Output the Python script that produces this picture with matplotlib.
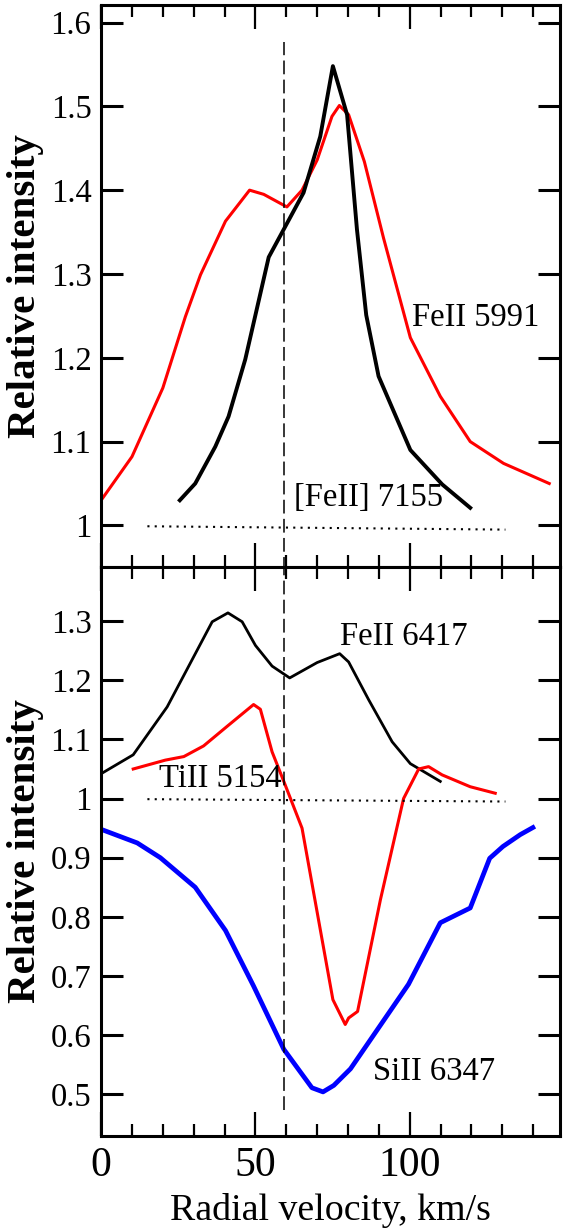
import matplotlib
matplotlib.use("Agg")
import matplotlib.pyplot as plt
from matplotlib.ticker import MultipleLocator, FixedLocator, FixedFormatter

plt.rcParams['font.family'] = ['Liberation Serif', 'DejaVu Serif']

# верхняя панель: FeII 5991 (красная) и [FeII] 7155 (чёрная)
fe5991_v = [0, 10, 20, 27.3, 32.2, 40.3, 48.1, 52.7, 60.2, 65.1, 70, 74.8, 77.2, 80.2, 85.3, 91.5, 100.2, 109.9, 119.6, 130.4, 145.2]
fe5991_i = [1.030, 1.082, 1.164, 1.249, 1.299, 1.363, 1.400, 1.395, 1.380, 1.400, 1.436, 1.488, 1.501, 1.490, 1.434, 1.343, 1.224, 1.154, 1.100, 1.074, 1.050]

fe7155_v = [25.5, 30.5, 37.0, 41.3, 46.7, 54.3, 65.6, 71.0, 75.1, 79.7, 82.9, 85.9, 89.9, 100.2, 110.5, 119.6]
fe7155_i = [1.030, 1.050, 1.094, 1.130, 1.198, 1.320, 1.397, 1.464, 1.548, 1.490, 1.353, 1.251, 1.178, 1.090, 1.049, 1.021]

# нижняя панель: FeII 6417 (чёрная), TiII 5154 (красная), SiII 6347 (синяя)
fe6417_v = [0, 10.4, 21.4, 36.0, 41.1, 45.7, 50.0, 55.4, 61.1, 70.0, 77.3, 80.2, 86.7, 94.3, 100.2, 109.9]
fe6417_i = [1.042, 1.074, 1.155, 1.299, 1.314, 1.299, 1.259, 1.224, 1.204, 1.230, 1.245, 1.231, 1.167, 1.096, 1.059, 1.029]

ti5154_v = [10.4, 20.8, 26.8, 33.2, 40.8, 49.4, 51.6, 55.4, 59.2, 65.1, 75.1, 79.1, 80.2, 83.1, 90.5, 98.0, 102.9, 106.1, 110.5, 119.6, 127.7]
ti5154_i = [1.050, 1.065, 1.071, 1.089, 1.122, 1.159, 1.151, 1.079, 1.029, 0.950, 0.660, 0.618, 0.629, 0.640, 0.829, 1.000, 1.050, 1.054, 1.040, 1.020, 1.009]

si6347_v = [0, 11.7, 19.2, 30.5, 40.3, 49.4, 59.2, 68.3, 71.9, 75.4, 80.8, 99.6, 109.9, 119.6, 125.9, 130.2, 135.8, 139.9]
si6347_i = [0.948, 0.925, 0.900, 0.850, 0.777, 0.683, 0.576, 0.511, 0.504, 0.515, 0.543, 0.686, 0.790, 0.815, 0.899, 0.919, 0.939, 0.951]

v_sys = 59.2
cont_v = [15, 131]
cont_i = [0.999, 0.995]

top_ticks = [1.0, 1.1, 1.2, 1.3, 1.4, 1.5, 1.6]
top_labels = ["1", "1.1", "1.2", "1.3", "1.4", "1.5", "1.6"]
bot_ticks = [0.5, 0.6, 0.7, 0.8, 0.9, 1.0, 1.1, 1.2, 1.3]
bot_labels = ["0.5", "0.6", "0.7", "0.8", "0.9", "1", "1.1", "1.2", "1.3"]

fig = plt.figure(figsize=(5.68, 12.32), dpi=100)
ax1 = fig.add_axes([0.178, 0.5395, 0.808, 0.4565])
ax2 = fig.add_axes([0.178, 0.0782, 0.808, 0.4613])

ax1.plot(fe5991_v, fe5991_i, color="red", lw=2.2)
ax1.plot(fe7155_v, fe7155_i, color="black", lw=2.8)
ax1.plot(cont_v, cont_i, color="black", lw=1.5, linestyle=(0, (1, 2.5)))
ax1.plot([v_sys, v_sys], [0.9, 1.577], color="black", lw=1.1, linestyle=(0, (9, 3.5)))
ax1.text(100.6, 1.2375, "FeII 5991", fontsize=23.5, ha="left", va="baseline")
ax1.text(62.6, 1.0227, "[FeII] 7155", fontsize=23.5, ha="left", va="baseline")

ax2.plot(fe6417_v, fe6417_i, color="black", lw=2.0)
ax2.plot(ti5154_v, ti5154_i, color="red", lw=2.2)
ax2.plot(si6347_v, si6347_i, color="blue", lw=3.4)
ax2.plot(cont_v, cont_i, color="black", lw=1.5, linestyle=(0, (1, 2.5)))
ax2.plot([v_sys, v_sys], [0.4735, 1.5], color="black", lw=1.1, linestyle=(0, (9, 3.5)))
ax2.text(77.3, 1.2594, "FeII 6417", fontsize=23.5, ha="left", va="baseline")
ax2.text(18.7, 1.020, "TiII 5154", fontsize=23.5, ha="left", va="baseline")
ax2.text(88.1, 0.524, "SiII 6347", fontsize=23.5, ha="left", va="baseline")

ax1.set_ylim(0.95, 1.621)
ax2.set_ylim(0.43, 1.391)
ax1.yaxis.set_major_locator(FixedLocator(top_ticks))
ax1.yaxis.set_major_formatter(FixedFormatter(top_labels))
ax2.yaxis.set_major_locator(FixedLocator(bot_ticks))
ax2.yaxis.set_major_formatter(FixedFormatter(bot_labels))

for ax in (ax1, ax2):
    ax.set_xlim(0, 148.7)
    ax.xaxis.set_major_locator(MultipleLocator(50))
    ax.xaxis.set_minor_locator(MultipleLocator(10))
    for s in ax.spines.values():
        s.set_linewidth(2.2)
    ax.tick_params(which="both", direction="in", top=True, right=True)
    ax.tick_params(axis="x", which="major", length=17.5, width=1.6, labelsize=30, pad=7.5)
    ax.tick_params(axis="x", which="minor", length=8.8, width=1.6)
    ax.tick_params(axis="y", which="major", length=15.6, width=2.2, labelsize=23.5, pad=7)
    ax.set_ylabel("Relative intensity", fontsize=29.5, fontweight="bold",
                  rotation_mode="anchor", ha="center", va="baseline")
    ax.yaxis.set_label_coords(-0.143, 0.5)

ax1.tick_params(axis="x", labelbottom=False)
ax2.set_xlabel("Radial velocity, km/s", fontsize=27.3, va="baseline")
ax2.xaxis.set_label_coords(0.5, -0.1477)

fig.savefig("out.png", dpi=100)
